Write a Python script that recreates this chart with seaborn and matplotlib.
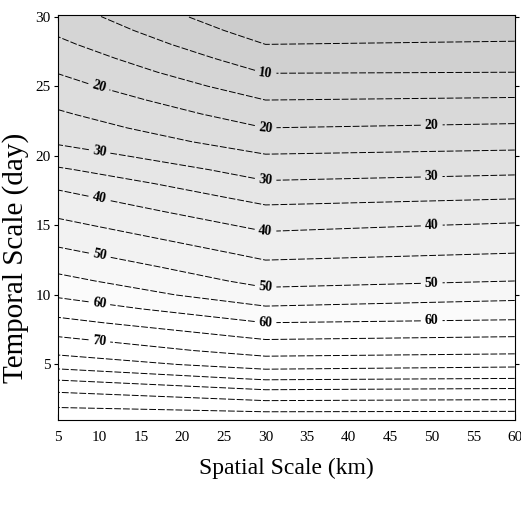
import numpy as np
import pandas as pd
import seaborn as sns
import matplotlib.pyplot as plt

# values: field value at each temporal scale for three spatial scales
spatial_km = [5, 30, 60]
temporal_day = list(range(1, 31))
value_5km = [100, 94.5, 90, 84.3, 78, 73.6, 70, 66.4, 62.8, 59.3,
             56.4, 53.7, 51.1, 48.6, 46.2, 43.8, 41.4, 38.8, 35.6, 32.3,
             29.4, 27.5, 25.6, 23.7, 21.7, 19.8, 17.9, 16.0, 14.2, 12.5]
value_30km = [98.8, 92.5, 86.3, 79.3, 72.8, 68.1, 64.2, 60, 55.8, 51.7,
              48.6, 46.2, 43.8, 41.4, 38.9, 36.3, 33.5, 30.6, 27.9, 25.3,
              22.6, 20, 17.5, 15, 12.4, 9.8, 7.4, 5, 2.7, 0.5]
value_60km = [98.8, 92.8, 86.9, 80, 73.9, 68.8, 65, 60.8, 57.1, 53.6,
              50, 47.5, 45, 42.7, 40.5, 37.6, 34.7, 31.8, 28.9, 26.1,
              23.4, 20.8, 18.2, 15.5, 12.8, 10, 7.7, 5.5, 3.3, 1.1]

levels = list(range(0, 105, 5))
label_levels = [10, 20, 30, 40, 50, 60, 70]
plain_levels = [lv for lv in levels if lv not in label_levels]
# where the inline labels sit (km, day)
label_spots = [(30, 25.9),
               (10, 25.1), (30, 22.0), (50, 22.2),
               (10, 20.2), (30, 18.2), (50, 18.4),
               (10, 17.0), (30, 14.6), (50, 15.1),
               (10, 12.8), (30, 10.4), (50, 10.9),
               (10, 9.4), (30, 8.0), (50, 8.1),
               (10, 6.7)]

df = pd.DataFrame({"day": temporal_day, 5: value_5km, 30: value_30km, 60: value_60km})
grid = df.set_index("day")[spatial_km]
X, Y = np.meshgrid(spatial_km, temporal_day)
Z = grid.to_numpy()

sns.set_style("ticks")
plt.rcParams["font.family"] = ["Liberation Serif", "DejaVu Serif"]
plt.rcParams["text.color"] = "black"
plt.rcParams["xtick.color"] = "black"
plt.rcParams["ytick.color"] = "black"
plt.rcParams["axes.labelcolor"] = "black"

fig = plt.figure(figsize=(5.21, 5.05), dpi=100)
ax = fig.add_axes([0.111, 0.168, 0.877, 0.802])

# stippled grey background gets denser toward low values
greys = [str(g) for g in np.linspace(0.80, 1.0, 13)] + ["1.0"] * 7
ax.contourf(X, Y, Z, levels=levels, colors=greys, extend="both")
line_kw = dict(colors="black", linewidths=0.7, linestyles=[(0, (7, 2))])
ax.contour(X, Y, Z, levels=plain_levels, **line_kw)
cs = ax.contour(X, Y, Z, levels=label_levels, **line_kw)
ax.clabel(cs, fmt="%d", fontsize=10, inline=True, inline_spacing=4,
          manual=label_spots)
for t in cs.labelTexts:
    t.set_fontweight("bold")

ax.set_xlim(5, 60)
ax.set_ylim(1, 30.1)
ax.set_xticks(range(5, 65, 5))
ax.set_yticks(range(5, 35, 5))
ax.tick_params(axis="x", direction="in", top=True, length=4, labelsize=11, pad=8)
ax.tick_params(axis="y", direction="out", right=True, length=3, labelsize=11, pad=2)
for s in ax.spines.values():
    s.set_linewidth(0.8)
    s.set_color("black")

ax.set_xlabel("Spatial Scale (km)", fontsize=17, va="top")
ax.xaxis.set_label_coords(0.50, -0.092)
ax.set_ylabel("Temporal Scale (day)", fontsize=21)
ax.yaxis.set_label_coords(-0.063, 0.40)

fig.savefig("out.png", dpi=100)
